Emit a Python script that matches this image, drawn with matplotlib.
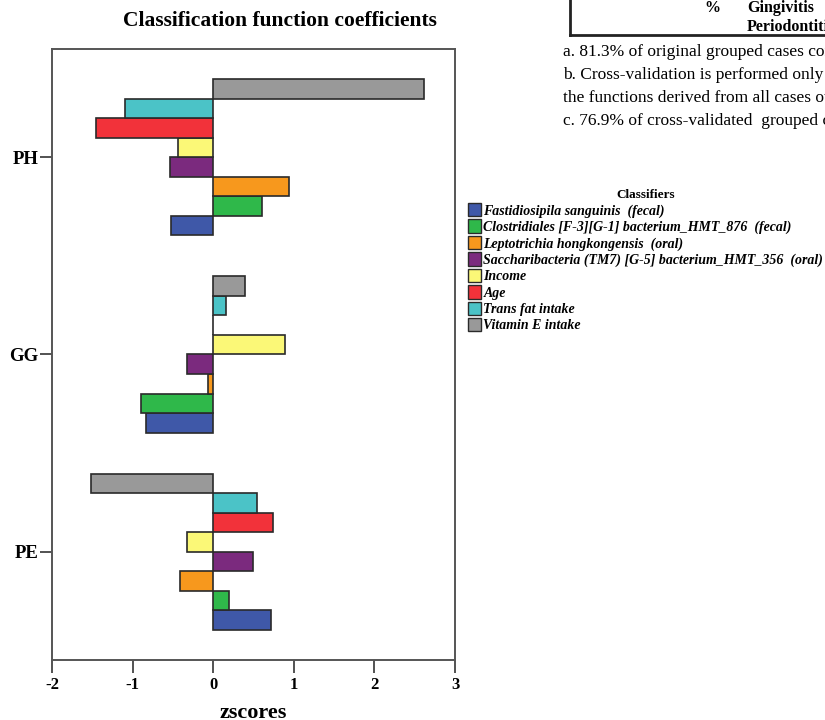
import matplotlib
matplotlib.use("Agg")
import matplotlib.pyplot as plt
import numpy as np
from matplotlib.patches import Patch

plt.rcParams['font.family'] = ['Liberation Serif', 'DejaVu Serif']

# Groups, drawn bottom to top
groups = ["PE", "GG", "PH"]

# Classifiers in legend order (first one is the lowest bar in each group)
classifiers = [
    "Fastidiosipila sanguinis  (fecal)",
    "Clostridiales [F-3][G-1] bacterium_HMT_876  (fecal)",
    "Leptotrichia hongkongensis  (oral)",
    "Saccharibacteria (TM7) [G-5] bacterium_HMT_356  (oral)",
    "Income",
    "Age",
    "Trans fat intake",
    "Vitamin E intake",
]
colors = ["#3f58a8", "#2fb84a", "#f7981d", "#7b2a7e",
          "#fbf877", "#f2323a", "#4bc3c7", "#999999"]

# z-scores per classifier, in the order of `groups` (PE, GG, PH)
fastidiosipila = [0.72, -0.83, -0.52]
clostridiales = [0.20, -0.90, 0.61]
leptotrichia = [-0.41, -0.07, 0.94]
saccharibacteria = [0.49, -0.32, -0.54]
income = [-0.32, 0.89, -0.44]
age = [0.74, 0.0, -1.46]
trans_fat = [0.54, 0.16, -1.09]
vitamin_e = [-1.52, 0.40, 2.62]
series = [fastidiosipila, clostridiales, leptotrichia, saccharibacteria,
          income, age, trans_fat, vitamin_e]

x_ticks = [-2, -1, 0, 1, 2, 3]

fig = plt.figure(figsize=(8.25, 7.2), dpi=100)
ax = fig.add_axes([52 / 825, 1 - 660 / 720, (455 - 52) / 825, (660 - 49) / 720])

n = len(series)
h = 0.099
ypos = np.arange(len(groups))
for i, (vals, col) in enumerate(zip(series, colors)):
    ax.barh(ypos + (i - (n - 1) / 2) * h, vals, height=h, color=col,
            edgecolor="#2a2a2a", linewidth=1.2, zorder=2)

ax.set_xlim(-2, 3)
ax.set_ylim(-0.55, 2.55)
ax.set_xticks(x_ticks)
ax.set_xticklabels([str(t) for t in x_ticks], fontsize=12, fontweight="bold")
ax.set_yticks(ypos)
ax.set_yticklabels(groups, fontsize=13.5, fontweight="bold")
ax.tick_params(axis="both", direction="out", length=9, width=1.3, color="#444444")
ax.tick_params(axis="x", pad=3)
ax.tick_params(axis="y", pad=1)
for s in ax.spines.values():
    s.set_color("#555555")
    s.set_linewidth(1.4)

fig.text(253 / 825, 1 - 718 / 720, "zscores", ha="center", va="baseline",
         fontsize=16, fontweight="bold")
fig.text(280 / 825, 1 - 21 / 720, "Classification function coefficients",
         ha="center", va="center", fontsize=15.5, fontweight="bold")

# Legend
handles = [Patch(facecolor=c, edgecolor="#2a2a2a", linewidth=1.0) for c in colors]
leg = fig.legend(handles, classifiers, loc="upper left",
                 bbox_to_anchor=(468 / 825, 1 - 189 / 720),
                 frameon=False, title="Classifiers",
                 prop={"size": 10, "weight": "bold", "style": "italic"},
                 handlelength=0.9, handleheight=1.1, handletextpad=0.2,
                 labelspacing=0.14, borderpad=0.0, borderaxespad=0.0)
leg.get_title().set_fontsize(9.5)
leg.get_title().set_fontweight("bold")

# Table fragment and its footnotes
fig.add_artist(plt.Line2D([570 / 825, 570 / 825], [1 - 35 / 720, 1.0],
                          color="#222222", linewidth=2.0))
fig.add_artist(plt.Line2D([570 / 825, 1.0], [1 - 35 / 720, 1 - 35 / 720],
                          color="#222222", linewidth=2.0))
fig.text(712 / 825, 1 - 8 / 720, "%", ha="center", va="center",
         fontsize=11.5, fontweight="bold")
fig.text(747 / 825, 1 - 8 / 720, "Gingivitis", ha="left", va="center",
         fontsize=11.5, fontweight="bold")
fig.text(747 / 825, 1 - 27 / 720, "Periodontitis", ha="left", va="center",
         fontsize=11.5, fontweight="bold")
notes = [
    "a. 81.3% of original grouped cases correctly classified.",
    "b. Cross-validation is performed only for those cases in the analysis.",
    "the functions derived from all cases other than that case.",
    "c. 76.9% of cross-validated  grouped cases correctly classified.",
]
for t, y in zip(notes, [52, 75, 98, 121]):
    fig.text(563 / 825, 1 - y / 720, t, ha="left", va="center", fontsize=12.5)

fig.savefig("out.png", dpi=100)
